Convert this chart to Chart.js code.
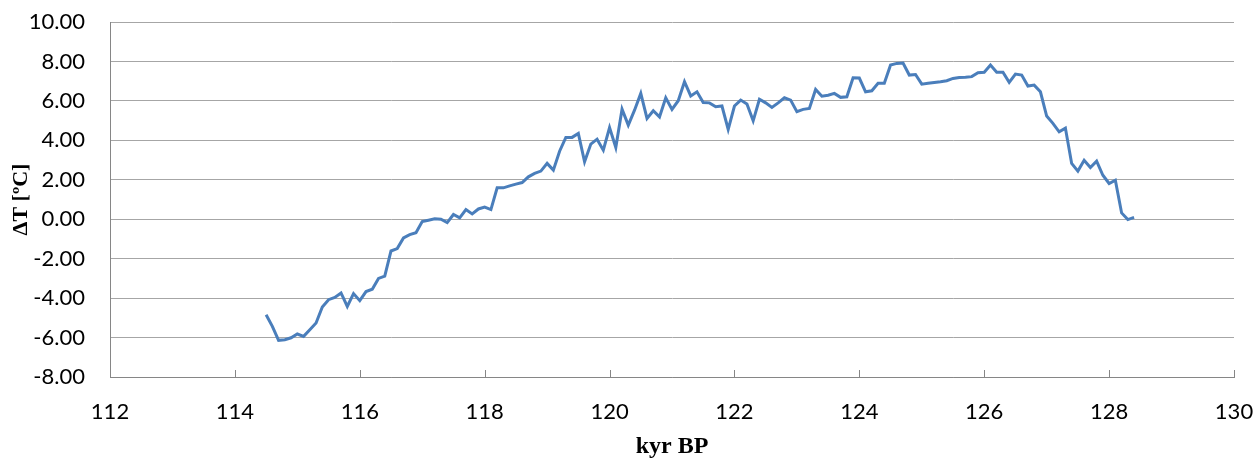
<!DOCTYPE html>
<html>
<head>
<meta charset="utf-8">
<title>ΔT vs kyr BP</title>
<script src="https://cdn.jsdelivr.net/npm/chart.js@4.4.1/dist/chart.umd.min.js"></script>
<style>
  html, body { margin: 0; padding: 0; background: #fff; }
  canvas { display: block; }
</style>
</head>
<body>
<canvas id="tempChart" width="1257" height="460"></canvas>
<script>
// Age (kyr BP)
const kyr = [
  114.5, 114.6, 114.7, 114.8, 114.9, 115.0, 115.1, 115.2, 115.3, 115.4,
  115.5, 115.6, 115.7, 115.8, 115.9, 116.0, 116.1, 116.2, 116.3, 116.4,
  116.5, 116.6, 116.7, 116.8, 116.9, 117.0, 117.1, 117.2, 117.3, 117.4,
  117.5, 117.6, 117.7, 117.8, 117.9, 118.0, 118.1, 118.2, 118.3, 118.4,
  118.5, 118.6, 118.7, 118.8, 118.9, 119.0, 119.1, 119.2, 119.3, 119.4,
  119.5, 119.6, 119.7, 119.8, 119.9, 120.0, 120.1, 120.2, 120.3, 120.4,
  120.5, 120.6, 120.7, 120.8, 120.9, 121.0, 121.1, 121.2, 121.3, 121.4,
  121.5, 121.6, 121.7, 121.8, 121.9, 122.0, 122.1, 122.2, 122.3, 122.4,
  122.5, 122.6, 122.7, 122.8, 122.9, 123.0, 123.1, 123.2, 123.3, 123.4,
  123.5, 123.6, 123.7, 123.8, 123.9, 124.0, 124.1, 124.2, 124.3, 124.4,
  124.5, 124.6, 124.7, 124.8, 124.9, 125.0, 125.1, 125.2, 125.3, 125.4,
  125.5, 125.6, 125.7, 125.8, 125.9, 126.0, 126.1, 126.2, 126.3, 126.4,
  126.5, 126.6, 126.7, 126.8, 126.9, 127.0, 127.1, 127.2, 127.3, 127.4,
  127.5, 127.6, 127.7, 127.8, 127.9, 128.0, 128.1, 128.2, 128.3, 128.4
];

// Temperature anomaly (ºC)
const deltaT = [
  -4.84, -5.43, -6.14, -6.11, -6.01, -5.82, -5.94, -5.60, -5.26, -4.45,
  -4.08, -3.97, -3.74, -4.42, -3.77, -4.13, -3.67, -3.55, -3.00, -2.89,
  -1.61, -1.49, -0.95, -0.78, -0.68, -0.12, -0.05, 0.02, 0.00, -0.17,
  0.24, 0.07, 0.49, 0.27, 0.52, 0.62, 0.49, 1.59, 1.59, 1.69,
  1.78, 1.86, 2.15, 2.32, 2.44, 2.83, 2.49, 3.45, 4.15, 4.15,
  4.35, 2.91, 3.81, 4.06, 3.50, 4.65, 3.64, 5.58, 4.77, 5.53,
  6.38, 5.11, 5.50, 5.19, 6.16, 5.57, 6.01, 6.97, 6.25, 6.46,
  5.92, 5.90, 5.70, 5.74, 4.55, 5.74, 6.04, 5.84, 4.99, 6.08,
  5.90, 5.67, 5.90, 6.16, 6.04, 5.45, 5.57, 5.62, 6.58, 6.24,
  6.29, 6.38, 6.18, 6.21, 7.17, 7.16, 6.46, 6.51, 6.89, 6.89,
  7.82, 7.90, 7.92, 7.31, 7.34, 6.85, 6.89, 6.93, 6.97, 7.02,
  7.14, 7.19, 7.20, 7.23, 7.43, 7.45, 7.82, 7.45, 7.45, 6.94,
  7.36, 7.31, 6.75, 6.80, 6.46, 5.23, 4.86, 4.43, 4.62, 2.83,
  2.44, 2.99, 2.62, 2.94, 2.23, 1.81, 1.98, 0.32, -0.02, 0.09
];

// Axis ticks
const xTicks = [112, 114, 116, 118, 120, 122, 124, 126, 128, 130];
const yTicks = [-8, -6, -4, -2, 0, 2, 4, 6, 8, 10];

const points = kyr.map((k, i) => ({ x: k, y: deltaT[i] }));

// Small inward tick marks on the bottom axis (Excel style)
const innerTicks = {
  id: 'innerTicks',
  afterDatasetsDraw(chart) {
    const { ctx, scales: { x }, chartArea } = chart;
    ctx.save();
    ctx.strokeStyle = '#868686';
    ctx.lineWidth = 1;
    x.ticks.forEach(t => {
      const px = Math.round(x.getPixelForValue(t.value)) + 0.5;
      ctx.beginPath();
      ctx.moveTo(px, chartArea.bottom);
      ctx.lineTo(px, chartArea.bottom - 7);
      ctx.stroke();
    });
    ctx.restore();
  }
};

const ctx = document.getElementById('tempChart').getContext('2d');
new Chart(ctx, {
  type: 'line',
  data: {
    datasets: [{
      label: 'ΔT',
      data: points,
      borderColor: '#4a7ebb',
      borderWidth: 3,
      pointRadius: 0,
      tension: 0,
      fill: false
    }]
  },
  options: {
    responsive: false,
    animation: false,
    layout: { padding: { left: 0, right: 23, top: 22, bottom: 0 } },
    plugins: {
      legend: { display: false },
      tooltip: { enabled: false }
    },
    scales: {
      x: {
        type: 'linear',
        min: 112,
        max: 130,
        afterBuildTicks: (scale) => { scale.ticks = xTicks.map(v => ({ value: v })); },
        afterFit: (scale) => {
          scale.height = 83;
          scale.paddingLeft = 0;
          scale.paddingRight = 0;
        },
        grid: { display: false, drawTicks: false },
        border: { display: true, color: '#868686', width: 1 },
        ticks: {
          color: '#000',
          font: { family: 'Lato', size: 22 },
          padding: 22,
          maxRotation: 0,
          callback: (v) => String(v)
        },
        title: {
          display: true,
          text: 'kyr BP',
          color: '#000',
          font: { family: 'Liberation Serif', size: 24, weight: 'bold', lineHeight: 1.0 },
          padding: { top: 0, bottom: 1 }
        }
      },
      y: {
        min: -8,
        max: 10,
        afterBuildTicks: (scale) => { scale.ticks = yTicks.map(v => ({ value: v })); },
        afterFit: (scale) => {
          scale.width = 110;
          scale.paddingTop = 0;
          scale.paddingBottom = 0;
        },
        grid: { color: '#a6a6a6', lineWidth: 1, drawTicks: false },
        border: { display: true, color: '#868686', width: 1 },
        ticks: {
          color: '#000',
          font: { family: 'Lato', size: 22 },
          padding: 25,
          callback: (v) => Number(v).toFixed(2)
        },
        title: {
          display: true,
          text: 'ΔT [ºC]',
          color: '#000',
          font: { family: 'Liberation Serif', size: 22, weight: 'bold' },
          padding: { top: 8, bottom: 0 }
        }
      }
    }
  },
  plugins: [innerTicks]
});
</script>
</body>
</html>
